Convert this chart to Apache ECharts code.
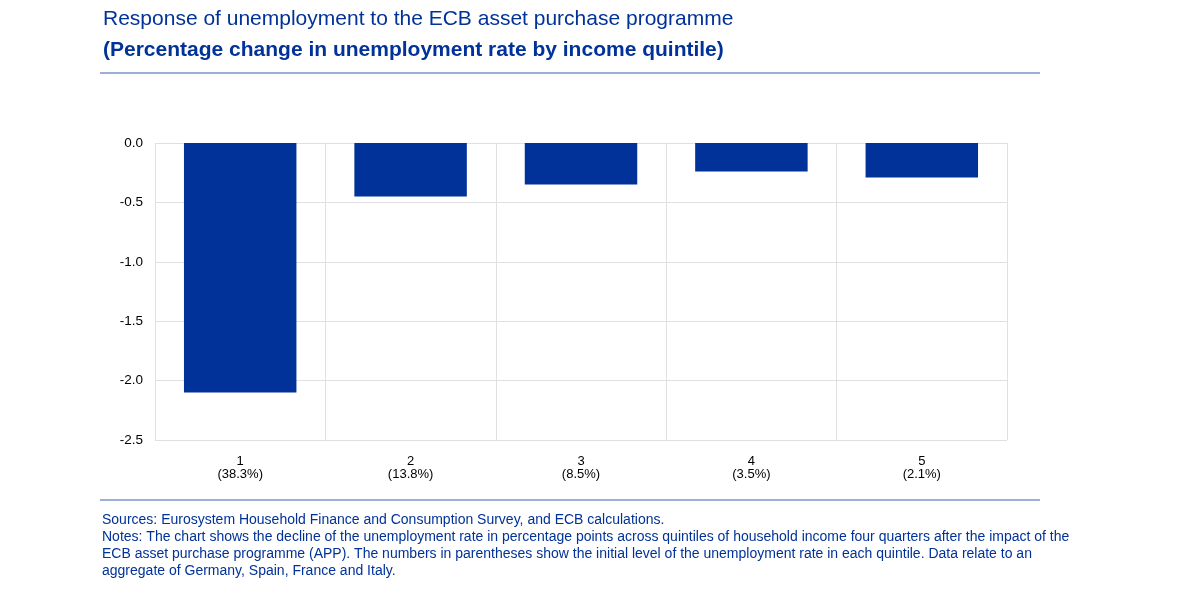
<!DOCTYPE html>
<html>
<head>
<meta charset="utf-8">
<script src="https://cdn.jsdelivr.net/npm/echarts@6/dist/echarts.min.js"></script>
<style>
html,body{margin:0;padding:0;background:#fff;}
#c{width:1200px;height:599px;}
</style>
</head>
<body>
<div id="c"></div>
<script>
const quintiles = ['1', '2', '3', '4', '5'];
const initialRates = ['38.3%', '13.8%', '8.5%', '3.5%', '2.1%'];
const unemploymentChange = [-2.1, -0.45, -0.35, -0.24, -0.29];
const yTicks = { min: -2.5, max: 0, interval: 0.5 };

const titleText = 'Response of unemployment to the ECB asset purchase programme';
const subtitleText = '(Percentage change in unemployment rate by income quintile)';
const notesLines = [
  'Sources: Eurosystem Household Finance and Consumption Survey, and ECB calculations.',
  'Notes: The chart shows the decline of the unemployment rate in percentage points across quintiles of household income four quarters after the impact of the',
  'ECB asset purchase programme (APP). The numbers in parentheses show the initial level of the unemployment rate in each quintile. Data relate to an',
  'aggregate of Germany, Spain, France and Italy.'
];

const blue = '#003299';
const font = 'Liberation Sans, Arial, sans-serif';
const chart = echarts.init(document.getElementById('c'), null, { renderer: 'canvas' });

const categories = quintiles.map((q, i) => q + '\n(' + initialRates[i] + ')');

chart.setOption({
  backgroundColor: '#fff',
  animation: false,
  textStyle: { fontFamily: font },
  graphic: [
    { type: 'text', left: 103, top: 9, style: { text: titleText, font: '21px ' + font, fill: blue } },
    { type: 'text', left: 103, top: 40, style: { text: subtitleText, font: 'bold 21px ' + font, fill: blue } },
    { type: 'line', shape: { x1: 100, y1: 73, x2: 1040, y2: 73 }, style: { stroke: '#7a94cc', lineWidth: 1.5 } },
    { type: 'line', shape: { x1: 100, y1: 500, x2: 1040, y2: 500 }, style: { stroke: '#7a94cc', lineWidth: 1.5 } },
    { type: 'text', left: 102, top: 512, style: { text: notesLines.join('\n'), font: '14px ' + font, fill: blue, lineHeight: 17 } }
  ],
  grid: { left: 155, right: 193, top: 143, bottom: 159, containLabel: false },
  xAxis: {
    type: 'category',
    data: categories,
    position: 'bottom',
    boundaryGap: true,
    axisLine: { show: false, onZero: false },
    axisTick: { show: false },
    splitLine: { show: true, lineStyle: { color: '#e0e0e0', width: 1 } },
    axisLabel: { color: '#000', fontSize: 13, fontFamily: font, lineHeight: 13, margin: 15 }
  },
  yAxis: {
    type: 'value',
    min: yTicks.min,
    max: yTicks.max,
    interval: yTicks.interval,
    axisLine: { show: false },
    axisTick: { show: false },
    splitLine: { show: true, lineStyle: { color: '#e0e0e0', width: 1 } },
    axisLabel: { color: '#000', fontSize: 13.5, fontFamily: font, margin: 12, formatter: v => v.toFixed(1) }
  },
  series: [{
    type: 'bar',
    data: unemploymentChange,
    barWidth: '66%',
    itemStyle: { color: blue }
  }]
});
</script>
</body>
</html>
